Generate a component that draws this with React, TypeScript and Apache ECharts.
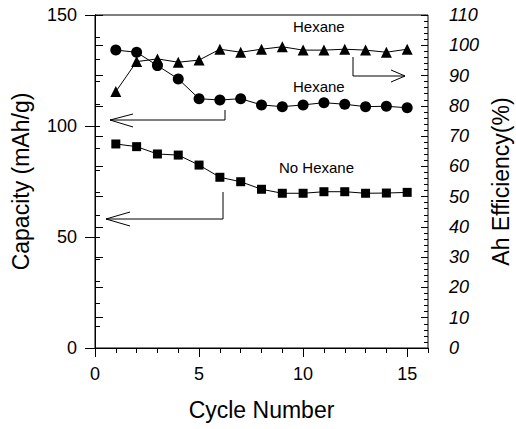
import React, { useEffect, useRef } from "react";
import * as echarts from "echarts";

const cycles = [1, 2, 3, 4, 5, 6, 7, 8, 9, 10, 11, 12, 13, 14, 15];
const hexaneCapacity = [134.2, 133.2, 127.2, 121.2, 112.3, 111.7, 112.3, 109.5, 108.7, 109.5, 110.5, 109.8, 108.7, 108.9, 108.2];
const noHexaneCapacity = [91.9, 90.7, 87.4, 86.9, 82.4, 76.9, 74.9, 71.5, 69.7, 69.7, 70.4, 70.4, 69.7, 69.8, 70.1];
const hexaneEfficiency = [84.7, 94.6, 95.5, 94.4, 95.1, 98.7, 97.7, 98.7, 99.5, 98.4, 98.4, 98.7, 98.4, 97.7, 98.7];
const annotations = ["Hexane", "Hexane", "No Hexane"];

const FONT = "'Liberation Sans', Arial, sans-serif";

export default function App() {
  const ref = useRef<HTMLDivElement>(null);
  useEffect(() => {
    if (!ref.current) return;
    const chart = echarts.init(ref.current, null, { renderer: "svg" });
    const lineStyle = { color: "#000", width: 1 };
    const black = { color: "#000" };
    const arrowStyle = { stroke: "#000", lineWidth: 1, fill: null };
    const hidden = { axisLine: { show: false }, axisLabel: { show: false }, splitLine: { show: false } };
    chart.setOption({
      animation: false,
      backgroundColor: "#fff",
      grid: {
        left: 95, right: 88, top: 15, bottom: 81, show: true, borderColor: "#000", borderWidth: 1,
        containLabel: false, outerBoundsMode: "none",
      },
      xAxis: [
        {
          type: "value", min: 0, max: 16, interval: 5, position: "bottom",
          name: "Cycle Number", nameLocation: "middle", nameGap: 50,
          nameTextStyle: { fontFamily: FONT, fontSize: 23, color: "#000" },
          axisLine: { lineStyle }, axisTick: { length: 9, lineStyle },
          axisLabel: { fontFamily: FONT, fontSize: 18, color: "#000", margin: 17, showMaxLabel: false },
          splitLine: { show: false },
        },
        {
          type: "value", min: 0, max: 16, interval: 1, position: "bottom",
          axisTick: { length: 5, lineStyle }, ...hidden,
        },
      ],
      yAxis: [
        {
          type: "value", min: 0, max: 150, interval: 50, position: "left",
          name: "Capacity (mAh/g)", nameLocation: "middle", nameGap: 63,
          nameTextStyle: { fontFamily: FONT, fontSize: 23, color: "#000" },
          axisLine: { show: true, lineStyle }, axisTick: { length: 10, lineStyle },
          axisLabel: { fontFamily: FONT, fontSize: 18, color: "#000", margin: 18 },
          splitLine: { show: false },
        },
        {
          type: "value", min: 0, max: 110, interval: 10, position: "right",
          name: "Ah Efficiency(%)", nameLocation: "middle", nameGap: 59,
          nameTextStyle: { fontFamily: FONT, fontSize: 23, color: "#000" },
          axisLine: { show: true, lineStyle },
          axisTick: { length: 8, lineStyle },
          axisLabel: { fontFamily: FONT, fontSize: 18, color: "#000", fontStyle: "italic", margin: 21 },
          splitLine: { show: false },
        },
        {
          type: "value", min: 0, max: 150, interval: 10, position: "left",
          axisTick: { inside: true, length: 5, lineStyle }, ...hidden,
        },
        {
          type: "value", min: 0, max: 110, interval: 2, position: "right",
          axisTick: { inside: true, length: 4, lineStyle }, ...hidden,
        },
        {
          type: "value", min: 0, max: 110, interval: 10, position: "right",
          axisTick: { inside: true, length: 7, lineStyle }, ...hidden,
        },
      ],
      series: [
        {
          name: "Hexane capacity", type: "line", xAxisIndex: 0, yAxisIndex: 0,
          data: cycles.map((c, i) => [c, hexaneCapacity[i]]),
          symbol: "circle", symbolSize: 11, lineStyle, itemStyle: black,
        },
        {
          name: "No Hexane capacity", type: "line", xAxisIndex: 0, yAxisIndex: 0,
          data: cycles.map((c, i) => [c, noHexaneCapacity[i]]),
          symbol: "rect", symbolSize: 9, lineStyle, itemStyle: black,
        },
        {
          name: "Hexane efficiency", type: "line", xAxisIndex: 0, yAxisIndex: 1,
          data: cycles.map((c, i) => [c, hexaneEfficiency[i]]),
          symbol: "triangle", symbolSize: 11, lineStyle, itemStyle: black,
        },
      ],
      graphic: [
        { type: "text", left: 293, top: 19, style: { text: annotations[0], font: `15px ${FONT}`, fill: "#000" } },
        { type: "text", left: 293, top: 79, style: { text: annotations[1], font: `15px ${FONT}`, fill: "#000" } },
        { type: "text", left: 279, top: 160, style: { text: annotations[2], font: `15px ${FONT}`, fill: "#000" } },
        // arrow to right axis
        { type: "polyline", shape: { points: [[353, 57], [353, 76], [405, 76]] }, style: arrowStyle },
        { type: "polyline", shape: { points: [[391, 70], [405, 76], [391, 82]] }, style: arrowStyle },
        // arrow for hexane capacity
        { type: "polyline", shape: { points: [[225, 110], [225, 120], [110, 120]] }, style: arrowStyle },
        { type: "polyline", shape: { points: [[133, 114], [110, 120], [133, 127]] }, style: arrowStyle },
        // arrow for no hexane capacity
        { type: "polyline", shape: { points: [[223, 192], [223, 219], [106, 219]] }, style: arrowStyle },
        { type: "polyline", shape: { points: [[130, 212], [106, 219], [130, 226]] }, style: arrowStyle },
      ],
    });
    return () => chart.dispose();
  }, []);
  return <div ref={ref} style={{ width: 516, height: 429, position: "absolute", left: 0, top: 0 }} />;
}
